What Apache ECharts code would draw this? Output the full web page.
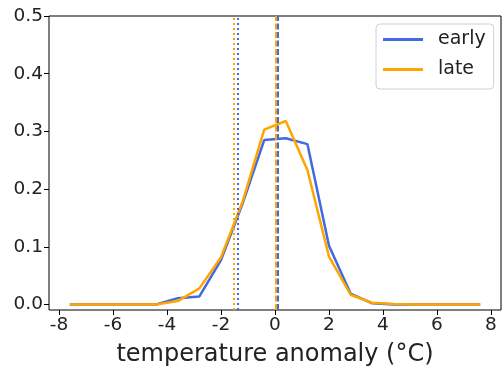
<!DOCTYPE html>
<html>
<head>
<meta charset="utf-8">
<script src="https://cdn.jsdelivr.net/npm/echarts@6/dist/echarts.min.js"></script>
<style>
  html, body { margin: 0; padding: 0; background: #fff; }
  #chart { width: 502px; height: 368px; }
</style>
</head>
<body>
<div id="chart"></div>
<script>
// bin centres (°C)
const anomaly = [-7.6, -6.8, -6.0, -5.2, -4.4, -3.6, -2.8, -2.0, -1.2, -0.4,
                 0.4, 1.2, 2.0, 2.8, 3.6, 4.4, 5.2, 6.0, 6.8, 7.6];
const early = [0, 0, 0, 0, 0, 0.011, 0.014, 0.077, 0.175, 0.285,
               0.288, 0.278, 0.102, 0.019, 0.002, 0, 0, 0, 0, 0];
const late = [0, 0, 0, 0, 0, 0.006, 0.028, 0.082, 0.178, 0.303,
              0.318, 0.233, 0.083, 0.017, 0.003, 0.001, 0, 0, 0, 0];
// vertical reference lines: dashed and dotted
const earlyDashed = 0.12, earlyDotted = -1.38;
const lateDashed = 0.03, lateDotted = -1.54;
const xTicks = [-8, -6, -4, -2, 0, 2, 4, 6, 8];
const yTicks = [0, 0.1, 0.2, 0.3, 0.4, 0.5];

const BLUE = '#4169E1';
const ORANGE = '#FFA500';
const FONT = 'DejaVu Sans';

const chart = echarts.init(document.getElementById('chart'));

function vline(x, color, type) {
  return {
    xAxis: x,
    lineStyle: { color: color, type: type, width: 2 }
  };
}

function pairs(ys) {
  return anomaly.map((x, i) => [x, ys[i]]);
}

chart.setOption({
  animation: false,
  backgroundColor: '#fff',
  grid: {
    left: 49, right: 1, top: 16, bottom: 58,
    outerBoundsMode: 'none',
    containLabel: false,
    show: true, borderColor: '#000', borderWidth: 1
  },
  legend: {
    orient: 'vertical',
    left: 376, top: 24,
    padding: [6, 8, 10, 7],
    itemGap: 11,
    itemWidth: 40, itemHeight: 3,
    icon: 'rect',
    backgroundColor: 'rgba(255,255,255,0.8)',
    borderColor: '#d0d0d0', borderWidth: 1, borderRadius: 4,
    textStyle: { fontFamily: FONT, fontSize: 19, color: '#222', lineHeight: 18, padding: [0, 0, 0, 10] },
    data: ['early', 'late']
  },
  xAxis: {
    type: 'value',
    min: -8.37, max: 8.37,
    splitLine: { show: false },
    axisLine: { show: false, onZero: false },
    axisTick: { show: true, inside: false, length: 5, lineStyle: { color: '#000' }, customValues: xTicks },
    axisLabel: {
      fontFamily: FONT, fontSize: 18.5, color: '#222', margin: 6,
      customValues: xTicks,
      formatter: v => String(v)
    },
    name: 'temperature anomaly (°C)',
    nameLocation: 'middle',
    nameGap: 33,
    nameTextStyle: { fontFamily: FONT, fontSize: 24, color: '#222' }
  },
  yAxis: {
    type: 'value',
    min: -0.0095, max: 0.5,
    splitLine: { show: false },
    axisLine: { show: false, onZero: false },
    axisTick: { show: true, inside: false, length: 5, lineStyle: { color: '#000' }, customValues: yTicks },
    axisLabel: {
      fontFamily: FONT, fontSize: 18.5, color: '#222', margin: 6,
      customValues: yTicks,
      formatter: v => v.toFixed(1)
    }
  },
  series: [
    {
      name: 'early', type: 'line', data: pairs(early),
      showSymbol: false, color: BLUE,
      lineStyle: { width: 2.5, color: BLUE },
      markLine: {
        symbol: 'none', silent: true, label: { show: false },
        data: [vline(earlyDashed, BLUE, [6, 2.5]), vline(earlyDotted, BLUE, [2, 3])]
      }
    },
    {
      name: 'late', type: 'line', data: pairs(late),
      showSymbol: false, color: ORANGE,
      lineStyle: { width: 2.5, color: ORANGE },
      markLine: {
        symbol: 'none', silent: true, label: { show: false },
        data: [vline(lateDashed, ORANGE, [6, 2.5]), vline(lateDotted, ORANGE, [2, 3])]
      }
    }
  ]
});
</script>
</body>
</html>
